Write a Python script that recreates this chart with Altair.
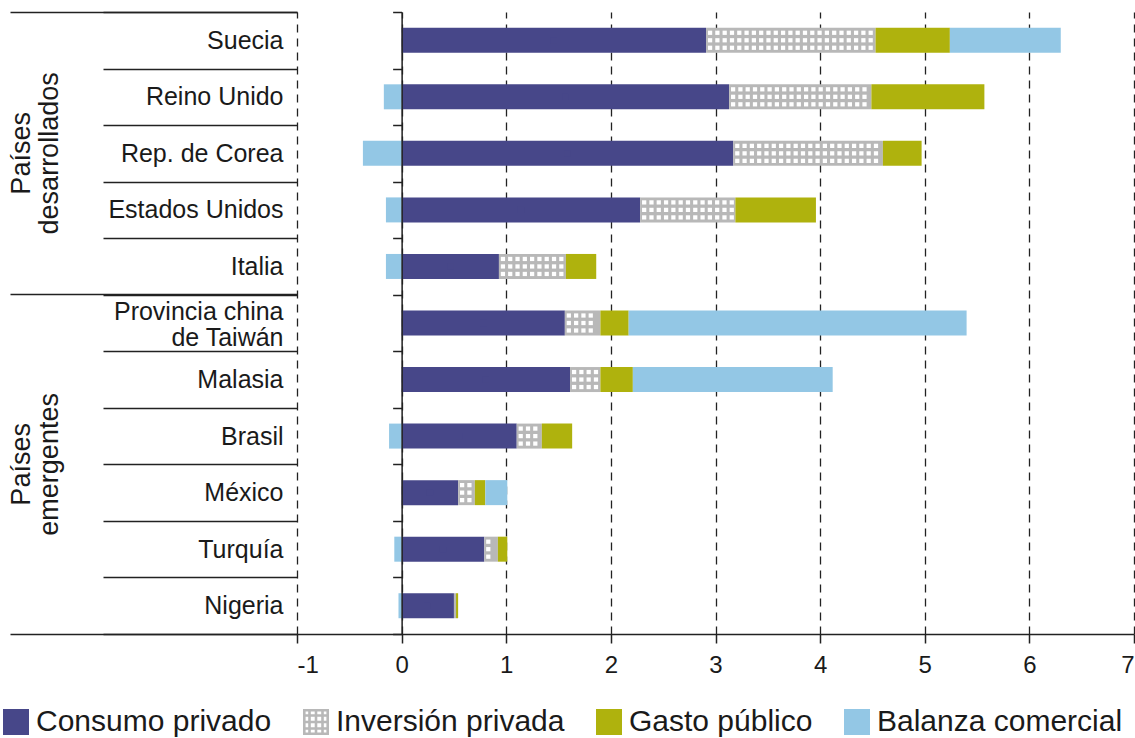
import altair as alt
import pandas as pd

# ---------------- data ----------------
countries = ["Suecia", "Reino Unido", "Rep. de Corea", "Estados Unidos", "Italia",
             "Provincia china de Taiwán", "Malasia", "Brasil", "México", "Turquía", "Nigeria"]
consumo = [2.91, 3.13, 3.17, 2.28, 0.93, 1.56, 1.61, 1.10, 0.54, 0.79, 0.50]
inversion = [1.62, 1.36, 1.43, 0.91, 0.64, 0.34, 0.29, 0.24, 0.16, 0.13, 0.02]
gasto = [0.71, 1.08, 0.37, 0.77, 0.29, 0.27, 0.31, 0.29, 0.10, 0.09, 0.02]
balanza = [1.06, -0.17, -0.37, -0.15, -0.15, 3.23, 1.91, -0.12, 0.21, -0.07, -0.03]

components = ["Consumo privado", "Inversión privada", "Gasto público", "Balanza comercial"]
colors = ["#474789", "#B8B8B8", "#AFB20D", "#93C7E5"]

group_labels = ["Países\ndesarrollados", "Países\nemergentes"]
x_ticks = [-1, 0, 1, 2, 3, 4, 5, 6, 7]

# ---------------- layout ----------------
W, H = 837, 622
PPU = W / 8.0  # pixels per unit on the x scale (domain -1..7)
STEP = H / len(countries)
FONT = "Liberation Sans"
PITCH = 7.3

# ---------------- derived tables ----------------
rows = []
for i, c in enumerate(countries):
    pos = 0.0
    neg = 0.0
    for comp, val in zip(components, [consumo[i], inversion[i], gasto[i], balanza[i]]):
        if val >= 0:
            x0, x1 = pos, pos + val
            pos = x1
        else:
            x0, x1 = neg + val, neg
            neg = x0
        rows.append({"pais": c, "componente": comp, "x0": x0, "x1": x1, "valor": val})
bars = pd.DataFrame(rows)

# hatch cells (white squares) inside each "Inversión privada" segment
cells = []
for i, c in enumerate(countries):
    s_px = consumo[i] * PPU
    e_px = (consumo[i] + inversion[i]) * PPU
    cx = s_px + 4.0
    while cx + 2.2 <= e_px - 1.2:
        cells.append({"pais": c, "x": cx / PPU})
        cx += PITCH
hatch = pd.DataFrame(cells)

legend_pts = pd.DataFrame({
    "pais": countries,
    "componente": ["Consumo privado"] * len(countries),
    "x": [v / 2 for v in consumo],
})

groups = pd.DataFrame({"txt": group_labels, "pais": ["Rep. de Corea", "México"]})


def grid_path(n=4, t=0.2):
    parts = []
    for k in range(n + 1):
        p = -1 + 2 * k / n
        a, b = p - t / 2, p + t / 2
        if a < -1:
            a, b = -1, -1 + t
        if b > 1:
            a, b = 1 - t, 1
        parts.append(f"M{a:.3f},-1L{b:.3f},-1L{b:.3f},1L{a:.3f},1Z")
        parts.append(f"M-1,{a:.3f}L1,{a:.3f}L1,{b:.3f}L-1,{b:.3f}Z")
    return "".join(parts)


shapes = ["square", grid_path(), "square", "square"]

y_scale = alt.Scale(domain=countries, paddingInner=0, paddingOuter=0)
x_scale = alt.Scale(domain=[-1, 7], nice=False, zero=False)
color_scale = alt.Scale(domain=components, range=colors)
shape_scale = alt.Scale(domain=components, range=shapes)

legend = alt.Legend(
    title=None, orient="none", legendX=-296, legendY=695, direction="horizontal",
    symbolSize=676, symbolStrokeWidth=0, labelFontSize=30, labelFont=FONT,
    labelColor="#1a1a1a", labelOffset=5, columnPadding=29, labelLimit=400,
)

# y-axis with labels and row separators
axis_labels = alt.Axis(
    title=None, orient="left", domain=False, ticks=True, tickBand="extent",
    tickSize=194, tickColor="#222222", tickWidth=1.5, labelPadding=-180,
    labelFontSize=25, labelFont=FONT, labelColor="#1a1a1a", labelLimit=400,
    labelAlign="right", labelBaseline="middle", labelLineHeight=26,
    labelOffset={"condition": {"test": "datum.value == 'Provincia china de Taiwán'", "value": -12}, "value": 0},
    labelExpr="datum.label == 'Provincia china de Taiwán' ? ['Provincia china', 'de Taiwán'] : datum.label",
    grid=False,
)
# long group separators (bottom of each group)
axis_groups_end = alt.Axis(
    title=None, orient="left", domain=False, ticks=True, bandPosition=1,
    values=["Italia", "Nigeria"], tickSize=287,
    tickColor="#222222", tickWidth=1.5, labels=False, grid=False,
)
# long group separator (top of chart)
axis_groups_top = alt.Axis(
    title=None, orient="left", domain=False, ticks=True, bandPosition=0,
    values=["Suecia"], tickSize=287,
    tickColor="#222222", tickWidth=1.5, labels=False, grid=False,
)
# zero line with small ticks
axis_zero = alt.Axis(
    title=None, orient="left", offset=-PPU, domain=True, domainColor="#222222",
    domainWidth=1.5, ticks=True, tickBand="extent", tickSize=9,
    tickColor="#222222", tickWidth=1.5, labels=False, grid=False, zindex=1,
)

x_axis = alt.Axis(
    title=None, values=x_ticks, labelExpr="'' + datum.value", labelFontSize=24,
    labelFont=FONT, labelColor="#1a1a1a", labelPadding=10, tickSize=9,
    tickColor="#222222", tickWidth=1.5, domainColor="#222222", domainWidth=1.5,
    grid=True, gridColor="#222222", gridDash=[8, 6], gridWidth=1.3,
)

bar_layer = alt.Chart(bars).mark_bar(height=25).encode(
    x=alt.X("x0:Q", scale=x_scale, axis=x_axis),
    x2="x1:Q",
    y=alt.Y("pais:N", scale=y_scale, sort=None, axis=axis_labels),
    color=alt.Color("componente:N", scale=color_scale, legend=legend),
)

legend_layer = alt.Chart(legend_pts).mark_point(filled=True, size=40, opacity=1).encode(
    x=alt.X("x:Q", scale=x_scale, axis=x_axis),
    y=alt.Y("pais:N", scale=y_scale, sort=None, axis=axis_zero),
    color=alt.Color("componente:N", scale=color_scale, legend=legend),
    shape=alt.Shape("componente:N", scale=shape_scale, legend=legend),
)

hatch_axes = [axis_groups_end, axis_groups_top, None]
hatch_layers = []
for k, off in enumerate([-7.5, 0, 7.5]):
    hatch_layers.append(
        alt.Chart(hatch).mark_square(size=18, color="white", opacity=1, yOffset=off).encode(
            x=alt.X("x:Q", scale=x_scale, axis=x_axis),
            y=alt.Y("pais:N", scale=y_scale, sort=None, axis=hatch_axes[k]),
        )
    )

text_layers = []
for i, off in enumerate([0, -STEP / 2]):
    text_layers.append(
        alt.Chart(groups.iloc[[i]]).mark_text(
            angle=270, align="center", baseline="middle", fontSize=27, font=FONT,
            color="#1a1a1a", lineBreak="\n", lineHeight=28, yOffset=off,
        ).encode(
            x=alt.value(22 - 297),
            y=alt.Y("pais:N", scale=y_scale, sort=None, axis=None),
            text="txt:N",
        )
    )

chart = alt.layer(bar_layer, legend_layer, *hatch_layers, *text_layers).resolve_axis(
    y="independent"
).properties(
    width=W, height=H,
    autosize=alt.AutoSizeParams(type="none"),
    padding={"left": 297, "top": 12, "right": 1, "bottom": 104},
).configure(font=FONT).configure_view(stroke=None)

chart.save("out.html", embed_options={"renderer": "svg", "actions": False})
